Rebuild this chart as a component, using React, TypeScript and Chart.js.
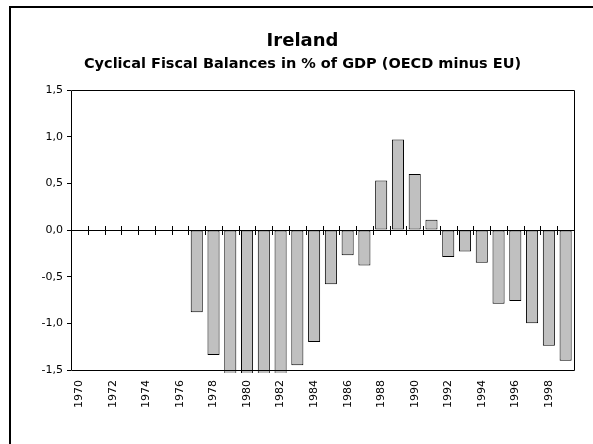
import React, { useEffect, useRef } from "react";
import { Chart, registerables } from "chart.js";

Chart.register(...registerables);

const years: string[] = [
  "1970", "1971", "1972", "1973", "1974", "1975", "1976", "1977", "1978", "1979",
  "1980", "1981", "1982", "1983", "1984", "1985", "1986", "1987", "1988", "1989",
  "1990", "1991", "1992", "1993", "1994", "1995", "1996", "1997", "1998", "1999",
];

const balances: (number | null)[] = [
  null, null, null, null, null, null, null, -0.88, -1.34, -1.7,
  -1.9, -1.8, -1.65, -1.45, -1.2, -0.58, -0.27, -0.38, 0.53, 0.97,
  0.6, 0.11, -0.29, -0.23, -0.35, -0.79, -0.76, -1.0, -1.24, -1.4,
];

const titleText = "Ireland";
const subtitleText = "Cyclical Fiscal Balances in % of GDP (OECD minus EU)";
const yMin = -1.5;
const yMax = 1.5;
const yStep = 0.5;

const TITLE_FONT = "'DejaVu Sans', 'Liberation Sans', Arial, sans-serif";
const TICK_FONT = "'DejaVu Sans', 'Liberation Sans', Arial, sans-serif";

const framePlugin = {
  id: "frameAndZero",
  afterDatasetsDraw(chart: any) {
    const { ctx, chartArea, scales } = chart;
    const xs = scales.x;
    const ys = scales.y;
    ctx.save();
    ctx.strokeStyle = "#000";
    ctx.lineWidth = 1;
    const l = Math.round(chartArea.left) + 0.5;
    const r = Math.round(chartArea.right) + 0.5;
    const t = Math.round(chartArea.top) + 0.5;
    const b = Math.round(chartArea.bottom) + 0.5;
    ctx.beginPath();
    ctx.rect(l, t, r - l, b - t);
    ctx.stroke();
    const y0 = Math.round(ys.getPixelForValue(0)) + 0.5;
    ctx.beginPath();
    ctx.moveTo(l, y0);
    ctx.lineTo(r, y0);
    const n = years.length;
    for (let i = 1; i < n; i++) {
      const xp = (xs.getPixelForValue(i - 1) + xs.getPixelForValue(i)) / 2;
      const xa = Math.round(xp) + 0.5;
      ctx.moveTo(xa, y0 - 4.5);
      ctx.lineTo(xa, y0 + 4.5);
    }
    ctx.stroke();
    ctx.restore();
  },
};

export default function App() {
  const canvasRef = useRef<HTMLCanvasElement | null>(null);

  useEffect(() => {
    const canvas = canvasRef.current;
    if (!canvas) return;
    const chart = new Chart(canvas, {
      type: "bar",
      data: {
        labels: years,
        datasets: [
          {
            data: balances,
            backgroundColor: "#C0C0C0",
            borderColor: "#000000",
            borderWidth: 1,
            borderSkipped: false,
            barPercentage: 0.72,
            categoryPercentage: 1,
            clip: { left: 0, right: 0, top: 0, bottom: 3 } as any,
          },
        ],
      },
      options: {
        responsive: false,
        animation: false,
        devicePixelRatio: 1,
        layout: { padding: { left: 31, right: 38, top: 0, bottom: 24 } },
        plugins: {
          legend: { display: false },
          tooltip: { enabled: false },
          title: {
            display: true,
            text: titleText,
            color: "#000",
            font: { family: TITLE_FONT, size: 18, weight: "bold", lineHeight: 1.2 },
            padding: { top: 31, bottom: 0 },
          },
          subtitle: {
            display: true,
            text: subtitleText,
            color: "#000",
            font: { family: TITLE_FONT, size: 14.5, weight: "bold", lineHeight: 1.2 },
            padding: { top: 2.5, bottom: 17.5 },
          },
        },
        scales: {
          x: {
            type: "category",
            offset: true,
            grid: { display: false, drawTicks: false },
            border: { display: false },
            afterFit: (s: any) => {
              s.height = 50;
            },
            ticks: {
              autoSkip: false,
              maxRotation: 90,
              minRotation: 90,
              padding: 10,
              color: "#000",
              font: { family: TICK_FONT, size: 11 },
              callback: (_v: any, i: number) => (i % 2 === 0 ? years[i] : ""),
            },
          },
          y: {
            min: yMin,
            max: yMax,
            grid: {
              display: true,
              drawOnChartArea: false,
              drawTicks: true,
              tickLength: 4,
              tickColor: "#000",
            },
            border: { display: false },
            afterFit: (s: any) => {
              s.width = 40;
            },
            ticks: {
              stepSize: yStep,
              padding: 4,
              color: "#000",
              font: { family: TICK_FONT, size: 11 },
              callback: (v: any) => Number(v).toFixed(1).replace(".", ","),
            },
          },
        },
      },
      plugins: [framePlugin],
    });
    return () => chart.destroy();
  }, []);

  return (
    <div
      style={{
        position: "fixed",
        left: 0,
        top: 0,
        width: 593,
        height: 444,
        overflow: "hidden",
        background: "#fff",
      }}
    >
      <canvas
        ref={canvasRef}
        width={612}
        height={444}
        style={{ position: "absolute", left: 0, top: 0, width: 612, height: 444 }}
      />
      <div
        style={{
          position: "absolute",
          left: 9,
          top: 6,
          width: 700,
          height: 600,
          borderTop: "2px solid #000",
          borderLeft: "2px solid #000",
          pointerEvents: "none",
        }}
      />
    </div>
  );
}
